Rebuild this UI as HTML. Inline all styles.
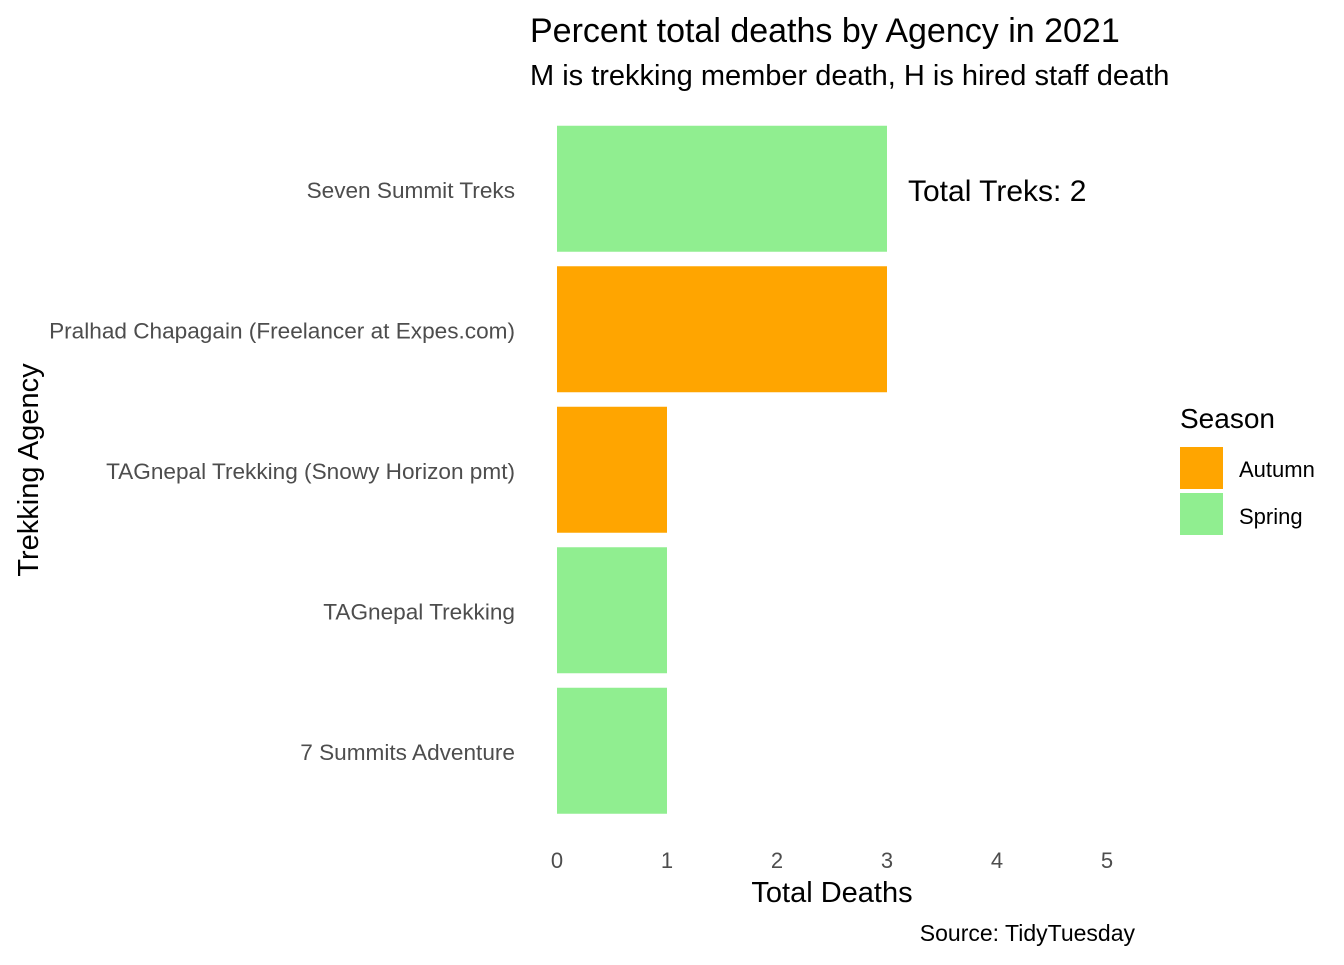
<!DOCTYPE html>
<html><head><meta charset="utf-8"><style>
body{margin:0;background:#fff;font-family:"Liberation Sans",Arial,sans-serif}
svg text{font-family:"Liberation Sans",Arial,sans-serif}
</style></head><body>
<svg id="chart" width="1344" height="960">
<text x="530" y="42" font-size="34" fill="#000">Percent total deaths by Agency in 2021</text>
<text x="530" y="85" font-size="29" fill="#000">M is trekking member death, H is hired staff death</text>
<g id="bars"></g>
<g id="ylabels"></g>
<g id="xticks"></g>
<text x="908" y="201" font-size="30" fill="#000">Total Treks: 2</text>
<text x="832" y="902" font-size="29" text-anchor="middle" fill="#000">Total Deaths</text>
<text transform="translate(38,470) rotate(-90)" font-size="29" text-anchor="middle" fill="#000">Trekking Agency</text>
<text x="1135" y="941" font-size="23" text-anchor="end" fill="#000">Source: TidyTuesday</text>
<g>
<text x="1180" y="428" font-size="28" fill="#000">Season</text>
<rect x="1180" y="447" width="43" height="42" fill="#FFA500"/>
<text x="1239" y="477" font-size="22" fill="#000">Autumn</text>
<rect x="1180" y="493" width="43" height="42" fill="#90EE90"/>
<text x="1239" y="524" font-size="22" fill="#000">Spring</text>
</g>
</svg>
<script>
const categories=["Seven Summit Treks","Pralhad Chapagain (Freelancer at Expes.com)","TAGnepal Trekking (Snowy Horizon pmt)","TAGnepal Trekking","7 Summits Adventure"];
const deaths=[3,3,1,1,1];
const seasons=["Spring","Autumn","Autumn","Spring","Spring"];
const xTicks=[0,1,2,3,4,5];
const colors={Autumn:"#FFA500",Spring:"#90EE90"};
const NS="http://www.w3.org/2000/svg";
const x=v=>557+v*110;
const y0=118.5, step=140.5, bh=126;
const yc=i=>y0+step*i+step/2;
const gb=document.getElementById('bars'),gl=document.getElementById('ylabels'),gx=document.getElementById('xticks');
categories.forEach((c,i)=>{
 const r=document.createElementNS(NS,'rect');
 r.setAttribute('x',x(0));r.setAttribute('y',yc(i)-bh/2);
 r.setAttribute('width',x(deaths[i])-x(0));r.setAttribute('height',bh);
 r.setAttribute('fill',colors[seasons[i]]);
 
 
 gb.appendChild(r);
 const t=document.createElementNS(NS,'text');
 t.setAttribute('x',515);t.setAttribute('y',yc(i)+9);
 t.setAttribute('text-anchor','end');t.setAttribute('font-size','22.6');t.setAttribute('fill','#4d4d4d');
 t.textContent=c;
 
 
 gl.appendChild(t);
});
xTicks.forEach(v=>{
 const t=document.createElementNS(NS,'text');
 t.setAttribute('x',x(v));t.setAttribute('y',868);
 t.setAttribute('text-anchor','middle');t.setAttribute('font-size','22');t.setAttribute('fill','#4d4d4d');
 t.textContent=v;
 
 
 gx.appendChild(t);
});
</script>
</body></html>
